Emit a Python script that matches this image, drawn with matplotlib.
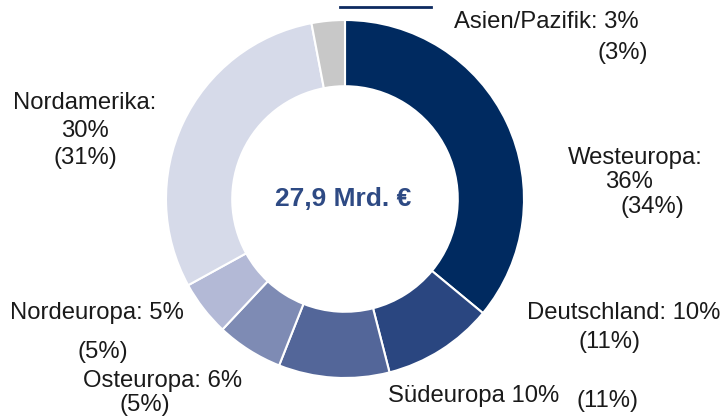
import matplotlib.pyplot as plt
from matplotlib.lines import Line2D

# regions, clockwise from 12 o'clock
regions = ["Westeuropa", "Deutschland", "Südeuropa", "Osteuropa",
           "Nordeuropa", "Nordamerika", "Asien/Pazifik"]
share = [36, 10, 10, 6, 5, 30, 3]
share_prev = [34, 11, 11, 5, 5, 31, 3]
colors = ["#002a60", "#2a4680", "#536699", "#7e8bb4",
          "#b3b9d6", "#d6dae9", "#c8c8c8"]
total_label = "27,9 Mrd. €"

W, H = 727, 416
fig = plt.figure(figsize=(W / 100, H / 100), dpi=100)
plt.rcParams['font.family'] = ['Liberation Sans', 'DejaVu Sans']

# donut centre and radius in pixels
cx, cy, r = 345, 199, 179
ax = fig.add_axes([(cx - r) / W, (H - cy - r) / H, 2 * r / W, 2 * r / H])
ax.pie(share, colors=colors, startangle=90, counterclock=False, radius=1,
       wedgeprops=dict(width=0.37, edgecolor="white", linewidth=1.5))
ax.set_xlim(-1, 1)
ax.set_ylim(-1, 1)
ax.axis("off")

ax.text(-0.01, 0, total_label, ha="center", va="center", fontsize=19,
        fontweight="bold", color="#2e4a84")


def ptext(x, y, s, ha="center"):
    fig.text(x / W, 1 - y / H, s, ha=ha, va="center", fontsize=17.2,
             color="#1a1a1a")


ptext(454, 22, f"{regions[6]}: {share[6]}%", ha="left")
ptext(623, 53, f"({share_prev[6]}%)")
ptext(635, 158, f"{regions[0]}:")
ptext(629, 182, f"{share[0]}%")
ptext(652, 207, f"({share_prev[0]}%)")
ptext(624, 313, f"{regions[1]}: {share[1]}%")
ptext(610, 342, f"({share_prev[1]}%)")
ptext(474, 396, f"{regions[2]} {share[2]}%")
ptext(608, 401, f"({share_prev[2]}%)")
ptext(163, 381, f"{regions[3]}: {share[3]}%")
ptext(145, 405, f"({share_prev[3]}%)")
ptext(97, 313, f"{regions[4]}: {share[4]}%")
ptext(103, 352, f"({share_prev[4]}%)")
ptext(85, 103, f"{regions[5]}:")
ptext(85, 131, f"{share[5]}%")
ptext(85, 158, f"({share_prev[5]}%)")

# short rule above the chart
fig.add_artist(Line2D([340 / W, 431 / W], [1 - 7 / H, 1 - 7 / H],
                      color="#0d2a60", linewidth=2))

fig.savefig("out.png", dpi=100)
